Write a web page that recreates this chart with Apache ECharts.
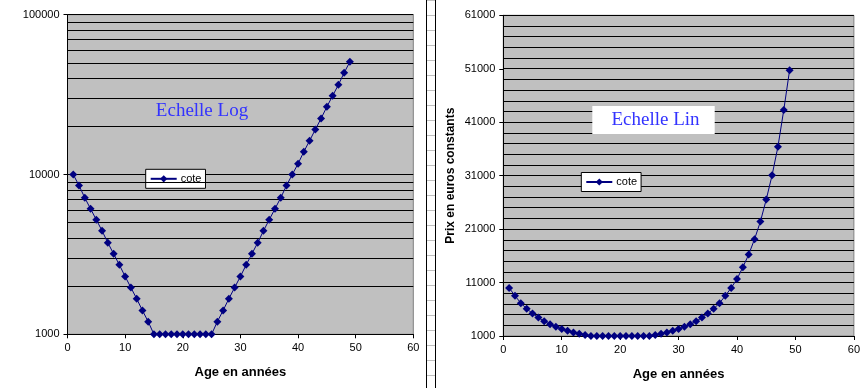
<!DOCTYPE html>
<html>
<head>
<meta charset="utf-8">
<script src="https://cdn.jsdelivr.net/npm/echarts@6/dist/echarts.min.js"></script>
<style>
html,body{margin:0;padding:0;background:#fff;}
#c{width:863px;height:388px;}
</style>
</head>
<body>
<div id="c"></div>
<script>
// ---- data ----
const ages = [1,2,3,4,5,6,7,8,9,10,11,12,13,14,15,16,17,18,19,20,21,22,23,24,25,26,27,28,29,30,31,32,33,34,35,36,37,38,39,40,41,42,43,44,45,46,47,48,49];
const cote = [10000,8530,7150,6100,5210,4440,3740,3190,2720,2300,1960,1670,1410,1200,
  1000,1000,1000,1000,1000,1000,1000,1000,1000,1000,1000,
  1200,1410,1670,1960,2300,2720,3190,3740,4440,5210,6100,7150,8530,10000,
  11670,13870,16250,19120,22410,26530,31080,36410,43290,50740];
const seriesName = 'cote';
const xTicks = [0,10,20,30,40,50,60];
const logTicks = [1000,10000,100000];
const logMinorGrid = [2000,3000,4000,5000,6000,7000,8000,9000,20000,30000,40000,50000,60000,70000,80000,90000];
const linTicks = [1000,11000,21000,31000,41000,51000,61000];
const xTitle = 'Age en années';
const yTitleRight = 'Prix en euros constants';
const noteLeft = 'Echelle Log';
const noteRight = 'Echelle Lin';

const pts = ages.map((a,i)=>[a, cote[i]]);
const chart = echarts.init(document.getElementById('c'));
const F = 'Liberation Sans, Arial, sans-serif';
const navy = '#000080';
const plain = v => String(Math.round(v));

function xAxisCfg(gridIndex){
  return {
    type:'value', gridIndex, min:xTicks[0], max:xTicks[xTicks.length-1], interval:10,
    name:xTitle, nameLocation:'middle', nameGap:32,
    nameTextStyle:{fontFamily:F,fontSize:13,fontWeight:'bold',color:'#000'},
    axisLine:{show:true,onZero:false,lineStyle:{color:'#000',width:1}},
    axisTick:{show:true,inside:false,length:4,lineStyle:{color:'#000'}},
    axisLabel:{fontFamily:F,fontSize:11,color:'#000',margin:8,formatter:plain},
    splitLine:{show:false}
  };
}

const seriesStyle = {
  type:'line', name:seriesName, z:5,
  symbol:'diamond', symbolSize:8,
  itemStyle:{color:navy},
  lineStyle:{color:navy,width:1},
  animation:false
};

const legendBase = {
  data:[seriesName], orient:'vertical',
  backgroundColor:'#fff', borderColor:'#000', borderWidth:1, borderRadius:0,
  padding:[4,4,4,4], itemWidth:26, itemHeight:9, itemGap:0,
  textStyle:{fontFamily:F,fontSize:11,color:'#000',padding:[0,0,0,-1]},
  selectedMode:false
};

const option = {
  animation:false,
  backgroundColor:'#fff',
  grid:[
    {left:67.5, top:14.7, width:345.8, height:319.6, show:true, backgroundColor:'#C0C0C0', borderColor:'#808080', borderWidth:1},
    {left:503.3, top:15.3, width:353, height:320.7, show:true, backgroundColor:'#C0C0C0', borderColor:'#808080', borderWidth:1}
  ],
  xAxis:[xAxisCfg(0), xAxisCfg(1)],
  yAxis:[
    {type:'log', gridIndex:0, logBase:10, min:logTicks[0], max:logTicks[logTicks.length-1],
     axisLine:{show:true,lineStyle:{color:'#000'}},
     axisTick:{show:true,length:4,lineStyle:{color:'#000'}},
     axisLabel:{fontFamily:F,fontSize:11,color:'#000',margin:8,formatter:plain},
     splitLine:{show:true,lineStyle:{color:'#000',width:1}}},
    {type:'value', gridIndex:1, min:linTicks[0], max:linTicks[linTicks.length-1], interval:10000,
     name:yTitleRight, nameLocation:'middle', nameGap:47, nameRotate:90,
     nameTextStyle:{fontFamily:F,fontSize:12,fontWeight:'bold',color:'#000'},
     axisLine:{show:true,lineStyle:{color:'#000'}},
     axisTick:{show:true,length:4,lineStyle:{color:'#000'}},
     axisLabel:{fontFamily:F,fontSize:11,color:'#000',margin:8,formatter:plain},
     splitLine:{show:true,lineStyle:{color:'#000',width:1}},
     minorTick:{show:false, splitNumber:5},
     minorSplitLine:{show:true,lineStyle:{color:'#000',width:1}}}
  ],
  legend:[
    Object.assign({}, legendBase, {left:145.7, top:169.3}),
    Object.assign({}, legendBase, {left:581.3, top:172.5})
  ],
  series:[
    {type:'line', name:'grid', xAxisIndex:0, yAxisIndex:0, z:1, data:[], silent:true,
     markLine:{silent:true, symbol:['none','none'], animation:false,
       lineStyle:{color:'#000',width:1,type:'solid'}, label:{show:false},
       emphasis:{disabled:true},
       data:logMinorGrid.map(v=>({yAxis:v}))}},
    Object.assign({}, seriesStyle, {xAxisIndex:0, yAxisIndex:0, data:pts}),
    Object.assign({}, seriesStyle, {xAxisIndex:1, yAxisIndex:1, data:pts})
  ],
  graphic:[
    {type:'text', x:202, y:111, z:10, silent:true,
     style:{text:noteLeft, font:'19px "Liberation Serif", "Times New Roman", serif', fill:'#3333ff', align:'center', verticalAlign:'middle'}},
    {type:'rect', x:592.3, y:106, z:9, silent:true, shape:{width:122.4, height:28}, style:{fill:'#fff'}},
    {type:'text', x:655.5, y:120.5, z:10, silent:true,
     style:{text:noteRight, font:'19px "Liberation Serif", "Times New Roman", serif', fill:'#3333ff', align:'center', verticalAlign:'middle'}},
    {type:'line', z:10, silent:true, shape:{x1:426.5,y1:0,x2:426.5,y2:388}, style:{stroke:'#000',lineWidth:1}},
    {type:'line', z:10, silent:true, shape:{x1:435.5,y1:0,x2:435.5,y2:388}, style:{stroke:'#000',lineWidth:1}}
  ]
};
// decorative ruler ticks between the two panels
for (let y=0.5; y<388; y+=15){
  option.graphic.push({type:'line', z:9, silent:true, shape:{x1:427,y1:y,x2:435,y2:y}, style:{stroke:'#c0c0c0',lineWidth:1}});
}
chart.setOption(option);
</script>
</body>
</html>
